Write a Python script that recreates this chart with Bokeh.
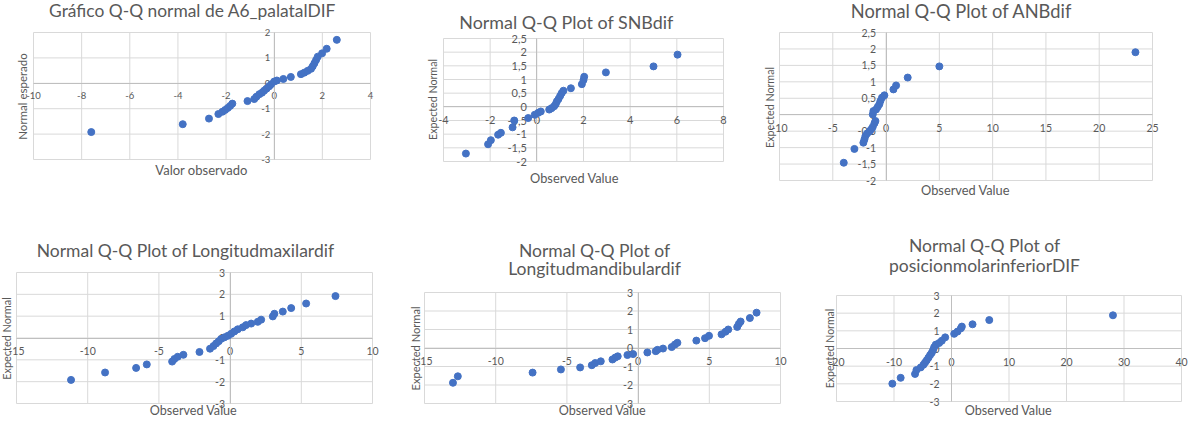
import math
from bokeh.plotting import figure
from bokeh.layouts import row, column
from bokeh.models import FixedTicker, CustomJSTickFormatter, Label, Range1d
from bokeh.embed import file_html
from bokeh.resources import INLINE

# ---------------- data ----------------
a6_obs = [-7.6, -3.8, -2.71, -2.32, -2.15, -2.04, -1.93, -1.83, -1.74, -1.11, -0.83, -0.74,
          -0.62, -0.51, -0.42, -0.32, -0.21, -0.13, 0.0, 0.11, 0.38, 0.69, 1.11, 1.25, 1.39,
          1.53, 1.60, 1.67, 1.74, 1.81, 1.99, 2.18, 2.60]
a6_exp = [-1.92, -1.61, -1.39, -1.21, -1.12, -1.05, -0.97, -0.89, -0.80, -0.70, -0.62, -0.53,
          -0.43, -0.37, -0.29, -0.21, -0.12, -0.04, 0.07, 0.11, 0.17, 0.25, 0.36, 0.42, 0.49,
          0.57, 0.67, 0.79, 0.92, 1.05, 1.18, 1.36, 1.71]

snb_obs = [-3.04, -2.09, -1.97, -1.66, -1.54, -1.04, -0.97, -0.37, -0.09, 0.06, 0.17, 0.53,
           0.63, 0.74, 0.81, 0.86, 0.93, 1.0, 1.07, 1.14, 1.46, 1.93, 2.0, 2.03, 2.96, 5.0, 6.03]
snb_exp = [-1.71, -1.37, -1.22, -1.02, -0.95, -0.75, -0.50, -0.41, -0.29, -0.22, -0.17, -0.10,
           -0.05, 0.02, 0.10, 0.20, 0.29, 0.40, 0.51, 0.59, 0.68, 0.83, 0.98, 1.10, 1.26, 1.48, 1.91]

anb_obs = [-3.97, -2.97, -2.13, -2.03, -1.94, -1.78, -1.56, -1.41, -1.25, -1.09, -1.0, -1.25,
           -1.19, -0.94, -0.78, -0.63, -0.53, -0.38, -0.16, 0.69, 0.94, 2.03, 5.0, 23.4]
anb_exp = [-1.46, -1.04, -0.85, -0.75, -0.65, -0.57, -0.51, -0.45, -0.37, -0.26, -0.19, 0.01,
           0.11, 0.16, 0.24, 0.32, 0.42, 0.52, 0.59, 0.77, 0.89, 1.13, 1.47, 1.90]

max_obs = [-11.17, -8.78, -6.6, -5.85, -4.07, -3.91, -3.68, -3.28, -2.15, -1.41, -1.17, -0.98,
           -0.80, -0.63, -0.40, -0.16, 0.07, 0.30, 0.54, 0.89, 1.12, 1.48, 1.94, 2.18, 3.0, 3.11,
           3.70, 4.29, 5.34, 7.40]
max_exp = [-1.92, -1.58, -1.37, -1.21, -1.08, -0.96, -0.86, -0.77, -0.64, -0.49, -0.37, -0.25,
           -0.15, -0.04, 0.03, 0.10, 0.19, 0.30, 0.40, 0.49, 0.59, 0.66, 0.74, 0.84, 0.99, 1.11,
           1.21, 1.37, 1.58, 1.92]

man_obs = [-13.0, -12.66, -7.41, -5.42, -4.07, -3.25, -3.01, -2.62, -1.80, -1.61, -1.43, -0.75,
           -0.35, 0.65, 1.24, 1.36, 1.75, 2.36, 2.59, 2.76, 4.09, 4.70, 4.98, 5.86, 6.14, 6.33,
           6.96, 7.08, 7.20, 7.85, 8.32]
man_exp = [-1.88, -1.53, -1.33, -1.16, -1.05, -0.93, -0.81, -0.72, -0.62, -0.52, -0.45, -0.38,
           -0.33, -0.24, -0.17, -0.10, -0.03, 0.05, 0.19, 0.28, 0.40, 0.53, 0.66, 0.74, 0.88, 1.0,
           1.14, 1.31, 1.43, 1.62, 1.91]

mol_obs = [-10.29, -8.84, -6.34, -6.1, -5.35, -4.88, -4.59, -4.3, -4.01, -3.72, -3.43, -3.2,
           -3.02, -2.73, -2.15, -1.69, -1.1, 0.47, 1.05, 1.63, 1.8, 3.66, 6.57, 28.08]
mol_exp = [-1.99, -1.66, -1.44, -1.22, -1.07, -0.92, -0.79, -0.66, -0.52, -0.37, -0.24, -0.09,
           0.07, 0.22, 0.31, 0.44, 0.63, 0.83, 0.96, 1.14, 1.24, 1.37, 1.61, 1.88]

ticks_a6_x = [-10, -8, -6, -4, -2, 0, 2, 4]
ticks_a6_y = [-3, -2, -1, 0, 1, 2]
ticks_snb_x = [-4, -2, 0, 2, 4, 6, 8]
ticks_snb_y = [-2, -1.5, -1, -0.5, 0, 0.5, 1, 1.5, 2, 2.5]
ticks_anb_x = [-10, -5, 0, 5, 10, 15, 20, 25]
ticks_anb_y = [-2, -1.5, -1, -0.5, 0, 0.5, 1, 1.5, 2, 2.5]
ticks_max_x = [-15, -10, -5, 0, 5, 10]
ticks_max_y = [-3, -2, -1, 0, 1, 2, 3]
ticks_man_x = [-15, -10, -5, 0, 5, 10]
ticks_man_y = [-3, -2, -1, 0, 1, 2, 3]
ticks_mol_x = [-20, -10, 0, 10, 20, 30, 40]
ticks_mol_y = [-3, -2, -1, 0, 1, 2, 3]

# ---------------- style ----------------
FONT = "Lato"
TXT = "#595959"
GRID = "#d9d9d9"
AXIS = "#bfbfbf"
BLUE = "#4472C4"

fmt_code = "return String(tick).replace('.', ',');"


def panel(fx, fy, W, H, box, xt, yt, xs, ys, titles, xlab, ylab, tick_px, ystand):
    """fx, fy: page position of the canvas; box: page pixels of the tick extremes."""
    bl, br, bt, bb = box
    sx = (xt[-1] - xt[0]) / (br - bl)
    sy = (yt[-1] - yt[0]) / (bb - bt)
    x0 = xt[0] - (bl - fx) * sx
    x1 = xt[-1] + (fx + W - br) * sx
    y1 = yt[-1] + (bt - fy) * sy
    y0 = yt[0] - (fy + H - bb) * sy

    def X(px):
        return x0 + (px - fx) * sx

    def Y(py):
        return y1 - (py - fy) * sy

    p = figure(width=W, height=H, x_range=Range1d(x0, x1), y_range=Range1d(y0, y1),
               output_backend="svg", toolbar_location=None, min_border=0)
    p.title.visible = False
    p.outline_line_color = None
    p.background_fill_color = "white"
    p.border_fill_color = "white"
    p.xgrid.visible = False
    p.ygrid.visible = False

    # gridlines (box) from the tick lists
    n, m = len(xt), len(yt)
    p.segment(x0=xt, y0=[yt[0]] * n, x1=xt, y1=[yt[-1]] * n, line_color=GRID, line_width=1)
    p.segment(x0=[xt[0]] * m, y0=yt, x1=[xt[-1]] * m, y1=yt, line_color=GRID, line_width=1)

    xax, yax = p.xaxis[0], p.yaxis[0]
    xax.ticker = FixedTicker(ticks=xt)
    yax.ticker = FixedTicker(ticks=yt)
    xax.bounds = (xt[0], xt[-1])
    yax.bounds = (yt[0], yt[-1])
    for ax in (xax, yax):
        ax.fixed_location = 0
        ax.formatter = CustomJSTickFormatter(code=fmt_code)
        ax.axis_line_color = AXIS
        ax.major_tick_line_color = None
        ax.minor_tick_line_color = None
        ax.major_tick_out = 0
        ax.major_tick_in = 0
        ax.minor_tick_out = 0
        ax.minor_tick_in = 0
        ax.major_label_text_font = FONT
        ax.major_label_text_font_size = f"{tick_px}px"
        ax.major_label_text_color = TXT
    xax.major_label_standoff = 9
    yax.major_label_standoff = ystand

    p.scatter(xs, ys, size=7, color=BLUE, line_color=BLUE, level="overlay")

    for text, cx, cy, fs in titles:
        p.add_layout(Label(x=X(cx), y=Y(cy), text=text, text_align="center",
                           text_baseline="middle", text_font=FONT, text_font_size=f"{fs}px",
                           text_color=TXT))
    text, cx, cy, fs = xlab
    p.add_layout(Label(x=X(cx), y=Y(cy), text=text, text_align="center",
                       text_baseline="middle", text_font=FONT, text_font_size=f"{fs}px",
                       text_color=TXT))
    text, cx, cy, fs = ylab
    p.add_layout(Label(x=X(cx), y=Y(cy), text=text, text_align="center",
                       text_baseline="middle", text_font=FONT, text_font_size=f"{fs}px",
                       text_color=TXT, angle=math.pi / 2))
    return p


p1 = panel(8, 8, 406, 214, (41, 378, 40, 167), ticks_a6_x, ticks_a6_y, a6_obs, a6_exp,
           [("Gráfico Q-Q normal de A6_palatalDIF", 200, 17.5, 17.4)],
           ("Valor observado", 209, 177, 13), ("Normal esperado", 30, 104, 11.5), 9.5, 4)
p2 = panel(414, 8, 346, 214, (451, 731, 46, 169), ticks_snb_x, ticks_snb_y, snb_obs, snb_exp,
           [("Normal Q-Q Plot of SNBdif", 574, 29, 17.9)],
           ("Observed Value", 582, 185, 12.8), ("Expected Normal", 440, 107, 10.7), 11, 10)
p3 = panel(760, 8, 436, 214, (787, 1160, 40, 188), ticks_anb_x, ticks_anb_y, anb_obs, anb_exp,
           [("Normal Q-Q Plot of ANBdif", 969, 18, 18.3)],
           ("Observed Value", 973, 197, 12.8), ("Expected Normal", 777, 115, 10.7), 10.5, 10)
p4 = panel(8, 222, 397, 204, (24, 380, 280, 411), ticks_max_x, ticks_max_y, max_obs, max_exp,
           [("Normal Q-Q Plot of Longitudmaxilardif", 193, 258, 17.5)],
           ("Observed Value", 201, 417.5, 12.6), ("Expected Normal", 14, 346, 10.9), 10.5, 5)
p5 = panel(405, 222, 410, 204, (432, 788, 300, 411), ticks_man_x, ticks_man_y, man_obs, man_exp,
           [("Normal Q-Q Plot of", 602, 258, 17.5), ("Longitudmandibulardif", 602, 276, 17.5)],
           ("Observed Value", 610, 417.5, 12.6), ("Expected Normal", 423, 356, 11.1), 10.5, 5)
p6 = panel(815, 222, 381, 204, (844, 1189, 303, 409), ticks_mol_x, ticks_mol_y, mol_obs, mol_exp,
           [("Normal Q-Q Plot of", 992, 253, 17.5), ("posicionmolarinferiorDIF", 992, 273, 17.5)],
           ("Observed Value", 1016, 417.5, 12.6), ("Expected Normal", 837, 356, 10.5), 10.5, 12)

layout = column(row(p1, p2, p3, spacing=0), row(p4, p5, p6, spacing=0), spacing=0)

open("out.html", "w").write(file_html(layout, INLINE))
